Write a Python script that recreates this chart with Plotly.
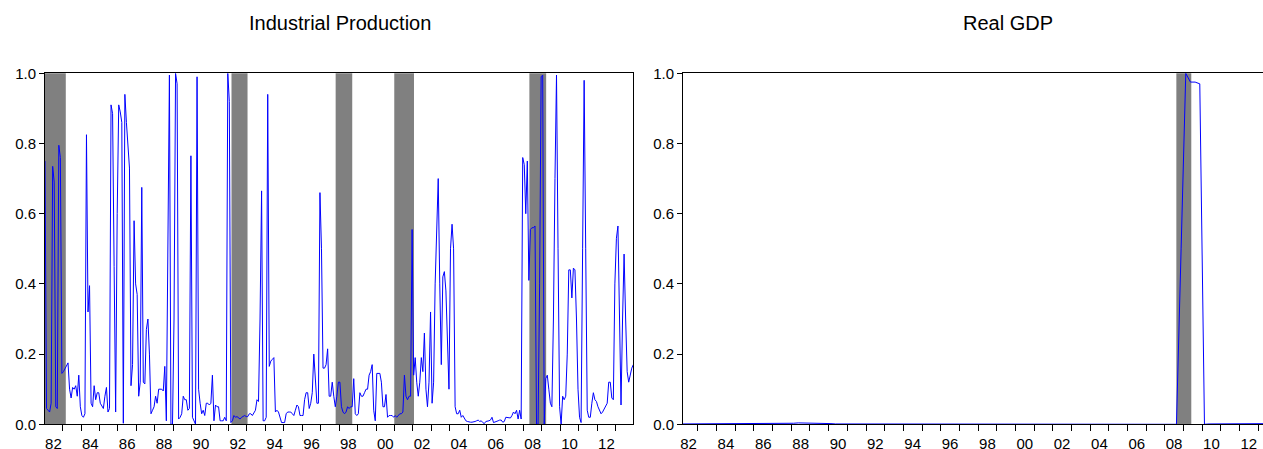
import plotly.graph_objects as go

W, H = 1263, 449

# ---------------- Industrial Production (monthly, 1982m1 - 2013m12) ----------------
ip_1982 = [0.75, 0.045, 0.04, 0.035, 0.06, 0.735, 0.69, 0.05, 0.045, 0.795, 0.76, 0.145]
ip_1983 = [0.15, 0.16, 0.165, 0.175, 0.10, 0.075, 0.105, 0.10, 0.11, 0.08, 0.14, 0.05]
ip_1984 = [0.025, 0.02, 0.03, 0.825, 0.32, 0.395, 0.06, 0.05, 0.11, 0.07, 0.09, 0.09]
ip_1985 = [0.06, 0.05, 0.045, 0.08, 0.105, 0.035, 0.045, 0.91, 0.885, 0.45, 0.035, 0.6]
ip_1986 = [0.91, 0.89, 0.86, 0.003, 0.94, 0.86, 0.80, 0.73, 0.11, 0.17, 0.58, 0.40]
ip_1987 = [0.37, 0.08, 0.12, 0.675, 0.12, 0.115, 0.27, 0.30, 0.20, 0.03, 0.04, 0.05]
ip_1988 = [0.08, 0.06, 0.10, 0.10, 0.10, 0.095, 0.165, 0.01, 0.5, 0.995, 0.0, 0.0]
ip_1989 = [0.3, 1.0, 0.97, 0.015, 0.02, 0.03, 0.08, 0.07, 0.07, 0.04, 0.045, 0.765]
ip_1990 = [0.02, 0.01, 0.0, 0.99, 0.10, 0.06, 0.03, 0.04, 0.025, 0.06, 0.06, 0.055]
ip_1991 = [0.06, 0.14, 0.01, 0.055, 0.05, 0.05, 0.01, 0.01, 0.01, 0.02, 0.01, 1.0]
ip_1992 = [0.92, 0.005, 0.01, 0.025, 0.02, 0.022, 0.018, 0.015, 0.02, 0.023, 0.025, 0.022]
ip_1993 = [0.022, 0.03, 0.03, 0.025, 0.035, 0.04, 0.07, 0.065, 0.3, 0.665, 0.01, 0.01]
ip_1994 = [0.02, 0.94, 0.165, 0.18, 0.185, 0.19, 0.035, 0.04, 0.035, 0.02, 0.005, 0.005]
ip_1995 = [0.005, 0.03, 0.035, 0.035, 0.035, 0.03, 0.025, 0.04, 0.055, 0.05, 0.025, 0.025]
ip_1996 = [0.025, 0.07, 0.09, 0.09, 0.045, 0.06, 0.09, 0.2, 0.11, 0.06, 0.06, 0.66]
ip_1997 = [0.5, 0.16, 0.16, 0.17, 0.215, 0.08, 0.08, 0.12, 0.08, 0.05, 0.08, 0.12]
ip_1998 = [0.12, 0.05, 0.035, 0.03, 0.035, 0.05, 0.045, 0.05, 0.05, 0.13, 0.03, 0.025]
ip_1999 = [0.03, 0.09, 0.08, 0.08, 0.09, 0.10, 0.10, 0.14, 0.15, 0.17, 0.04, 0.01]
ip_2000 = [0.145, 0.145, 0.145, 0.12, 0.05, 0.05, 0.085, 0.02, 0.025, 0.025, 0.025, 0.02]
ip_2001 = [0.025, 0.02, 0.025, 0.03, 0.03, 0.035, 0.14, 0.08, 0.07, 0.08, 0.08, 0.555]
ip_2002 = [0.14, 0.19, 0.12, 0.08, 0.12, 0.19, 0.15, 0.26, 0.10, 0.05, 0.12, 0.32]
ip_2003 = [0.06, 0.12, 0.40, 0.55, 0.70, 0.40, 0.17, 0.42, 0.435, 0.38, 0.20, 0.10]
ip_2004 = [0.50, 0.57, 0.50, 0.05, 0.03, 0.03, 0.04, 0.02, 0.025, 0.015, 0.01, 0.008]
ip_2005 = [0.006, 0.006, 0.006, 0.006, 0.008, 0.01, 0.012, 0.008, 0.01, 0.005, 0.002, 0.008]
ip_2006 = [0.008, 0.01, 0.012, 0.02, 0.005, 0.006, 0.008, 0.01, 0.012, 0.012, 0.006, 0.008]
ip_2007 = [0.02, 0.02, 0.02, 0.018, 0.025, 0.035, 0.03, 0.04, 0.015, 0.04, 0.015, 0.76]
ip_2008 = [0.74, 0.60, 0.75, 0.41, 0.555, 0.56, 0.56, 0.565, 0.0, 0.0, 0.4, 0.99]
ip_2009 = [0.995, 0.0, 0.13, 0.14, 0.10, 0.06, 0.05, 0.3, 0.7, 0.995, 0.5, 0.05]
ip_2010 = [0.0, 0.08, 0.07, 0.08, 0.2, 0.44, 0.44, 0.36, 0.445, 0.44, 0.3, 0.1]
ip_2011 = [0.02, 0.005, 0.5, 0.98, 0.5, 0.04, 0.02, 0.02, 0.06, 0.09, 0.07, 0.065]
ip_2012 = [0.05, 0.04, 0.03, 0.035, 0.045, 0.05, 0.06, 0.12, 0.12, 0.075, 0.07, 0.40]
ip_2013 = [0.53, 0.565, 0.3, 0.055, 0.3, 0.485, 0.3, 0.15, 0.12, 0.14, 0.16, 0.17]

ip_values = (ip_1982 + ip_1983 + ip_1984 + ip_1985 + ip_1986 + ip_1987 + ip_1988 + ip_1989
             + ip_1990 + ip_1991 + ip_1992 + ip_1993 + ip_1994 + ip_1995 + ip_1996 + ip_1997
             + ip_1998 + ip_1999 + ip_2000 + ip_2001 + ip_2002 + ip_2003 + ip_2004 + ip_2005
             + ip_2006 + ip_2007 + ip_2008 + ip_2009 + ip_2010 + ip_2011 + ip_2012 + ip_2013)
ip_years = list(range(1982, 2014))
ip_dates = [(y, m) for y in ip_years for m in range(1, 13)]
ip_x = [y + (m - 1) / 12 + 1 / 24 for (y, m) in ip_dates]   # mid-month positions

# shaded periods (decimal years)
ip_bands_start = [1982.042, 1992.16, 1997.81, 2000.99, 2008.32]
ip_bands_end = [1983.17, 1993.03, 1998.71, 2002.06, 2009.23]

# ---------------- Real GDP (quarterly, 1982Q1 - 2013Q4) ----------------
gdp_1982 = [0.001, 0.001, 0.001, 0.001]
gdp_1983 = [0.001, 0.001, 0.001, 0.001]
gdp_1984 = [0.002, 0.002, 0.002, 0.001]
gdp_1985 = [0.001, 0.001, 0.001, 0.001]
gdp_1986 = [0.001, 0.001, 0.001, 0.001]
gdp_1987 = [0.001, 0.001, 0.001, 0.002]
gdp_1988 = [0.003, 0.004, 0.004, 0.003]
gdp_1989 = [0.003, 0.003, 0.003, 0.003]
gdp_1990 = [0.002, 0.001, 0.001, 0.001]
gdp_1991 = [0.001, 0.001, 0.001, 0.001]
gdp_1992 = [0.001, 0.001, 0.001, 0.001]
gdp_1993 = [0.001, 0.001, 0.001, 0.001]
gdp_1994 = [0.001, 0.001, 0.001, 0.001]
gdp_1995 = [0.001, 0.001, 0.001, 0.001]
gdp_1996 = [0.001, 0.001, 0.001, 0.001]
gdp_1997 = [0.001, 0.002, 0.002, 0.001]
gdp_1998 = [0.001, 0.001, 0.001, 0.001]
gdp_1999 = [0.001, 0.001, 0.001, 0.001]
gdp_2000 = [0.001, 0.001, 0.001, 0.001]
gdp_2001 = [0.001, 0.001, 0.001, 0.001]
gdp_2002 = [0.001, 0.001, 0.001, 0.001]
gdp_2003 = [0.001, 0.001, 0.001, 0.001]
gdp_2004 = [0.001, 0.001, 0.001, 0.001]
gdp_2005 = [0.001, 0.001, 0.001, 0.001]
gdp_2006 = [0.001, 0.001, 0.001, 0.001]
gdp_2007 = [0.001, 0.001, 0.001, 0.001]
gdp_2008 = [0.001, 0.001, 0.0, 0.5]
gdp_2009 = [1.0, 0.975, 0.975, 0.97]
gdp_2010 = [0.0, 0.001, 0.001, 0.001]
gdp_2011 = [0.001, 0.001, 0.001, 0.001]
gdp_2012 = [0.001, 0.001, 0.001, 0.001]
gdp_2013 = [0.001, 0.002, 0.002, 0.002]

gdp_values = (gdp_1982 + gdp_1983 + gdp_1984 + gdp_1985 + gdp_1986 + gdp_1987 + gdp_1988
              + gdp_1989 + gdp_1990 + gdp_1991 + gdp_1992 + gdp_1993 + gdp_1994 + gdp_1995
              + gdp_1996 + gdp_1997 + gdp_1998 + gdp_1999 + gdp_2000 + gdp_2001 + gdp_2002
              + gdp_2003 + gdp_2004 + gdp_2005 + gdp_2006 + gdp_2007 + gdp_2008 + gdp_2009
              + gdp_2010 + gdp_2011 + gdp_2012 + gdp_2013)
gdp_dates = [(y, q) for y in range(1982, 2014) for q in range(1, 5)]
gdp_x = [y + (q - 1) / 4 + 0.125 for (y, q) in gdp_dates]   # mid-quarter positions

gdp_bands_start = [2008.62]
gdp_bands_end = [2009.42]

# ---------------- tick labels ----------------
label_years = list(range(1982, 2013, 2))
tick_label_pos = [y + 0.5 for y in label_years]
tick_label_text = ["%02d" % (y % 100) for y in label_years]
y_ticks = [0.0, 0.2, 0.4, 0.6, 0.8, 1.0]
y_tick_text = ["0.0", "0.2", "0.4", "0.6", "0.8", "1.0"]

panel_titles = ["Industrial Production", "Real GDP"]

FONT = "Liberation Sans, Arial, sans-serif"
LINE_BLUE = "#0000FF"
BAND_GREY = "#808080"

fig = go.Figure()
fig.add_trace(go.Scatter(x=ip_x, y=ip_values, mode="lines",
                         line=dict(color=LINE_BLUE, width=1), xaxis="x", yaxis="y",
                         showlegend=False, hoverinfo="skip"))
fig.add_trace(go.Scatter(x=gdp_x, y=gdp_values, mode="lines",
                         line=dict(color=LINE_BLUE, width=1), xaxis="x2", yaxis="y2",
                         showlegend=False, hoverinfo="skip"))

for a, b in zip(ip_bands_start, ip_bands_end):
    fig.add_shape(type="rect", xref="x", yref="y domain", x0=a, x1=b, y0=0, y1=1,
                  fillcolor=BAND_GREY, line_width=0, layer="below")
for a, b in zip(gdp_bands_start, gdp_bands_end):
    fig.add_shape(type="rect", xref="x2", yref="y2 domain", x0=a, x1=b, y0=0, y1=1,
                  fillcolor=BAND_GREY, line_width=0, layer="below")

y_dom = [1 - 424.3 / H, 1 - 73.3 / H]

def xaxis_cfg(domain, rng, mirror):
    return dict(
        domain=domain, range=rng, showline=True, linecolor="black", linewidth=1,
        mirror=mirror, showgrid=False, zeroline=False, automargin=False,
        tickmode="array", tickvals=tick_label_pos, ticktext=tick_label_text,
        ticks="", ticklabelstandoff=6,
        tickfont=dict(family=FONT, size=15, color="black"),
        minor=dict(tickmode="linear", tick0=1982, dtick=1, ticks="outside",
                   ticklen=6, tickwidth=1, tickcolor="black", showgrid=False),
        fixedrange=True,
    )

def yaxis_cfg(anchor, mirror):
    return dict(
        domain=y_dom, range=[0, 1], anchor=anchor, showline=True, linecolor="black",
        linewidth=1, mirror=mirror, showgrid=False, zeroline=False, automargin=False,
        tickmode="array", tickvals=y_ticks, ticktext=y_tick_text,
        ticks="outside", ticklen=5, tickwidth=1, tickcolor="black",
        tickfont=dict(family=FONT, size=15, color="black"),
        fixedrange=True,
    )

fig.update_layout(
    template="none",
    width=W, height=H, autosize=False,
    margin=dict(l=0, r=0, t=0, b=0, pad=0),
    paper_bgcolor="white", plot_bgcolor="white",
    xaxis=dict(**xaxis_cfg([45 / W, 633.3 / W], [1982.042, 2013.958], True), anchor="y"),
    yaxis=yaxis_cfg("x", True),
    xaxis2=dict(**xaxis_cfg([683 / W, 1.0], [1982.2, 2013.26], True), anchor="y2"),
    yaxis2=yaxis_cfg("x2", False),
    annotations=[
        dict(text=panel_titles[0], x=339.5 / W, y=1 - 22.5 / H, xref="paper", yref="paper",
             xanchor="center", yanchor="middle", showarrow=False,
             font=dict(family=FONT, size=20, color="black")),
        dict(text=panel_titles[1], x=1008 / W, y=1 - 22.5 / H, xref="paper", yref="paper",
             xanchor="center", yanchor="middle", showarrow=False,
             font=dict(family=FONT, size=20, color="black")),
    ],
)

fig.write_html("out.html", config={"displayModeBar": False},
               post_script="document.body.style.margin='0';document.body.style.overflow='hidden';")
